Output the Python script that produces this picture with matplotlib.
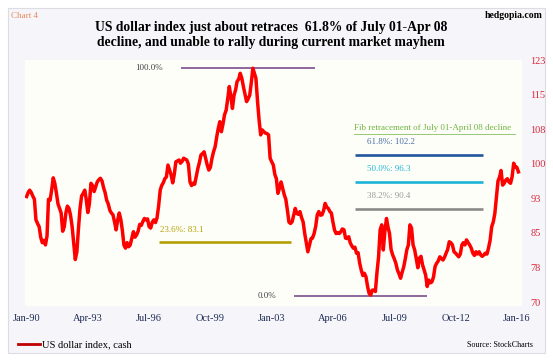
import matplotlib
matplotlib.use("Agg")
import matplotlib.pyplot as plt
import matplotlib.dates as mdates
from matplotlib.patches import Rectangle
from matplotlib.ticker import FixedLocator, FormatStrFormatter
import numpy as np
import pandas as pd

# ---------------------------------------------------------------------------
# Data: US dollar index (cash), monthly, Jan 1990 - Feb 2016
# ---------------------------------------------------------------------------
START_MONTH = "1990-01-01"
dxy_close = [
    # 1990
    93.1, 94.0, 94.5, 94.0, 93.2, 92.5, 88.0, 87.2, 86.5, 84.2, 83.0, 83.5,
    # 1991
    82.5, 84.5, 92.5, 92.3, 94.5, 97.2, 96.0, 93.9, 91.5, 90.5, 89.5, 85.5,
    # 1992
    86.5, 89.5, 91.0, 90.5, 89.0, 86.5, 83.0, 79.3, 81.0, 86.0, 90.5, 93.2,
    # 1993
    93.8, 94.5, 92.5, 89.6, 91.5, 96.0, 95.5, 94.2, 95.3, 96.3, 96.8, 97.1,
    # 1994
    96.5, 95.0, 94.0, 92.3, 91.5, 90.1, 89.5, 89.1, 87.5, 85.8, 88.0, 89.5,
    # 1995
    88.0, 85.5, 82.5, 81.8, 83.0, 82.1, 82.5, 84.0, 85.4, 84.2, 84.7, 85.5,
    # 1996
    87.0, 86.8, 87.6, 88.3, 88.0, 88.2, 86.5, 86.2, 87.5, 88.0, 87.4, 88.4,
    # 1997
    91.0, 94.5, 95.5, 96.1, 97.0, 97.4, 100.0, 98.9, 97.8, 96.1, 98.0, 100.7,
    # 1998
    100.9, 101.1, 100.4, 100.8, 101.5, 101.3, 101.1, 100.2, 96.3, 95.5, 96.0, 95.8,
    # 1999
    97.5, 99.3, 100.5, 102.2, 102.5, 102.9, 101.5, 100.0, 98.9, 99.5, 101.5, 102.9,
    # 2000
    104.0, 106.2, 108.0, 109.5, 107.3, 109.0, 111.0, 112.0, 114.5, 117.2, 115.0, 112.4,
    # 2001
    115.3, 116.5, 118.3, 118.8, 120.1, 119.0, 117.2, 115.5, 113.9, 114.5, 115.3, 118.0,
    # 2002
    121.2, 120.0, 119.0, 114.0, 109.9, 106.6, 107.7, 107.3, 107.0, 106.9, 106.6, 101.5,
    # 2003
    100.7, 100.0, 98.0, 97.0, 93.8, 95.0, 96.3, 94.9, 93.5, 92.5, 90.1, 87.5,
    # 2004
    87.2, 87.6, 89.0, 90.5, 89.4, 89.2, 89.8, 88.5, 87.5, 85.0, 83.0, 81.0,
    # 2005
    82.5, 83.9, 84.0, 85.0, 86.5, 89.1, 89.8, 89.0, 89.1, 90.0, 91.6, 90.8,
    # 2006
    90.5, 89.8, 89.5, 87.5, 85.8, 85.0, 85.2, 85.0, 85.4, 86.0, 85.8, 84.0,
    # 2007
    83.9, 84.3, 83.0, 82.3, 81.8, 82.0, 80.7, 80.8, 78.5, 77.0, 75.8, 76.3,
    # 2008
    75.5, 73.4, 71.9, 71.5, 72.6, 72.6, 72.3, 76.5, 79.9, 85.8, 86.9, 81.4,
    # 2009
    85.5, 88.3, 86.5, 85.0, 81.5, 80.3, 79.5, 78.5, 77.0, 76.2, 75.2, 76.5,
    # 2010
    77.7, 79.5, 81.4, 82.5, 86.9, 86.2, 82.5, 81.4, 79.5, 77.5, 79.6, 80.0,
    # 2011
    78.1, 77.0, 75.9, 73.4, 74.8, 74.2, 74.4, 75.5, 77.8, 78.5, 79.0, 79.9,
    # 2012
    79.5, 79.2, 79.8, 80.7, 81.5, 83.2, 83.0, 82.5, 81.0, 80.7, 80.3, 79.9,
    # 2013
    80.5, 82.5, 83.0, 82.5, 83.6, 83.0, 82.5, 81.8, 80.7, 80.2, 81.0, 80.5,
    # 2014
    81.0, 80.3, 80.0, 80.3, 80.7, 80.5, 81.8, 83.5, 86.5, 87.5, 89.4, 93.0,
    # 2015
    96.5, 97.4, 98.8, 95.6, 96.0, 96.7, 97.0, 96.3, 96.0, 97.4, 100.4, 99.6,
    # 2016
    99.5, 98.5,
]

# Fibonacci retracement of the July 01 high - April 08 low decline
fib_labels = ["100.0%", "61.8%: 102.2", "50.0%: 96.3", "38.2%: 90.4", "23.6%: 83.1", "0.0%"]
fib_levels = [121.3, 102.2, 96.3, 90.4, 83.1, 71.3]

y_tick_values = np.linspace(70, 123, 8)
x_tick_dates = pd.date_range("1990-01-01", "2016-01-01", freq="39MS")

# ---------------------------------------------------------------------------
# Style
# ---------------------------------------------------------------------------
SERIF = ["Liberation Serif", "DejaVu Serif"]
RED = "#ff0000"
PURPLE = "#6f3f86"

# where each fib segment sits: (start, end, colour, width)
_FIB_SEGMENTS = {
    "100.0%":       ("1998-03-15", "2005-04-10", PURPLE, 1.1),
    "61.8%: 102.2": ("2007-06-10", "2014-03-25", "#23559e", 1.9),
    "50.0%: 96.3":  ("2007-06-10", "2014-03-25", "#1bb4d6", 1.9),
    "38.2%: 90.4":  ("2007-06-10", "2014-03-25", "#8a8a8a", 1.9),
    "23.6%: 83.1":  ("1997-01-01", "2004-01-01", "#b3a000", 1.9),
    "0.0%":         ("2004-03-01", "2011-03-20", PURPLE, 1.1),
}
_FIB_TEXT = {
    "100.0%":       ("1997-03-15", 0.0, "right", "#444444"),
    "61.8%: 102.2": ("2008-01-15", 2.9, "left", "#4a6ea8"),
    "50.0%: 96.3":  ("2008-01-15", 2.8, "left", "#22b5d6"),
    "38.2%: 90.4":  ("2008-01-15", 2.9, "left", "#9a9a9a"),
    "23.6%: 83.1":  ("1997-02-01", 2.7, "left", "#b3a000"),
    "0.0%":         ("2003-04-01", 0.0, "right", "#444444"),
}

W, H = 553, 361
fig = plt.figure(figsize=(W / 100, H / 100), dpi=100)
fig.patch.set_facecolor("white")

# outer panel
fig.patches.append(Rectangle((8 / W, 1 - 353 / H), 537 / W, 345 / H,
                             transform=fig.transFigure, facecolor="#f6f6fa",
                             edgecolor="#dcdde4", linewidth=0.8, zorder=-10))

ax_left, ax_right, ax_top, ax_bot = 25, 522, 60, 306
ax = fig.add_axes([ax_left / W, 1 - ax_bot / H, (ax_right - ax_left) / W,
                   (ax_bot - ax_top) / H])
ax.set_facecolor("#fefef9")
for s in ax.spines.values():
    s.set_visible(False)

dates = pd.date_range(START_MONTH, periods=len(dxy_close), freq="MS")
ax.plot(dates, dxy_close, color=RED, linewidth=2.5, solid_joinstyle="round",
        label="US dollar index, cash", zorder=5)

for lab, lvl in zip(fib_labels, fib_levels):
    x0, x1, col, lw = _FIB_SEGMENTS[lab]
    ax.plot([pd.Timestamp(x0), pd.Timestamp(x1)], [lvl, lvl], color=col,
            linewidth=lw, solid_capstyle="butt", zorder=3)
    tx, dy, ha, tcol = _FIB_TEXT[lab]
    ax.text(pd.Timestamp(tx), lvl + dy, lab, ha=ha, va="center",
            fontsize=6.5, color=tcol, family=SERIF)

ax.text(pd.Timestamp("2007-05-20"), 108.1,
        "Fib retracement of July 01-April 08 decline", ha="left", va="center",
        fontsize=6.5, color="#6fb33f", family=SERIF)
ax.plot([pd.Timestamp("2007-05-20"), pd.Timestamp("2015-11-20")], [106.9, 106.9],
        color="#6fb33f", linewidth=0.5)

# axes
ax.set_xlim(pd.Timestamp("1989-12-01"), pd.Timestamp("2016-04-10"))
pix_per_unit = (302 - 60) / 53
ax.set_ylim(70 - (ax_bot - 302) / pix_per_unit, 123 + (60 - ax_top) / pix_per_unit + 0.01)

ax.yaxis.tick_right()
ax.yaxis.set_major_locator(FixedLocator(y_tick_values))
ax.yaxis.set_major_formatter(FormatStrFormatter("%.0f"))
ax.tick_params(axis="y", length=0, pad=6, labelsize=7.5, labelcolor="#d8283a")
ax.set_xticks(x_tick_dates)
ax.xaxis.set_major_formatter(mdates.DateFormatter("%b-%y"))
ax.tick_params(axis="x", length=0, pad=6, labelsize=7.5, labelcolor="#1e2a55")
for lab in ax.get_xticklabels() + ax.get_yticklabels():
    lab.set_family(SERIF)

# titles and notes
fig.text(271 / W, 1 - 35 / H,
         "US dollar index just about retraces  61.8% of July 01-Apr 08\n"
         "decline, and unable to rally during current market mayhem",
         ha="center", va="center", fontsize=9.8, fontweight="bold",
         family=SERIF, linespacing=1.2)
fig.text(11 / W, 1 - 16 / H, "Chart 4", ha="left", va="center", fontsize=6.5,
         color="#e58a5c", family=SERIF)
fig.text(543 / W, 1 - 16 / H, "hedgopia.com", ha="right", va="center",
         fontsize=7, fontweight="bold", family=SERIF)

leg = fig.legend(loc="center left", bbox_to_anchor=(14 / W, 1 - 345 / H),
                 frameon=False, prop={"family": SERIF, "size": 7.5},
                 handlelength=2.1, handletextpad=0.15, borderaxespad=0)
for line in leg.get_lines():
    line.set_color("#c00000")
    line.set_linewidth(2.0)
fig.text(533 / W, 1 - 345 / H, "Source: StockCharts", ha="right", va="center",
         fontsize=5.8, family=SERIF)

fig.savefig("out.png", dpi=100)
